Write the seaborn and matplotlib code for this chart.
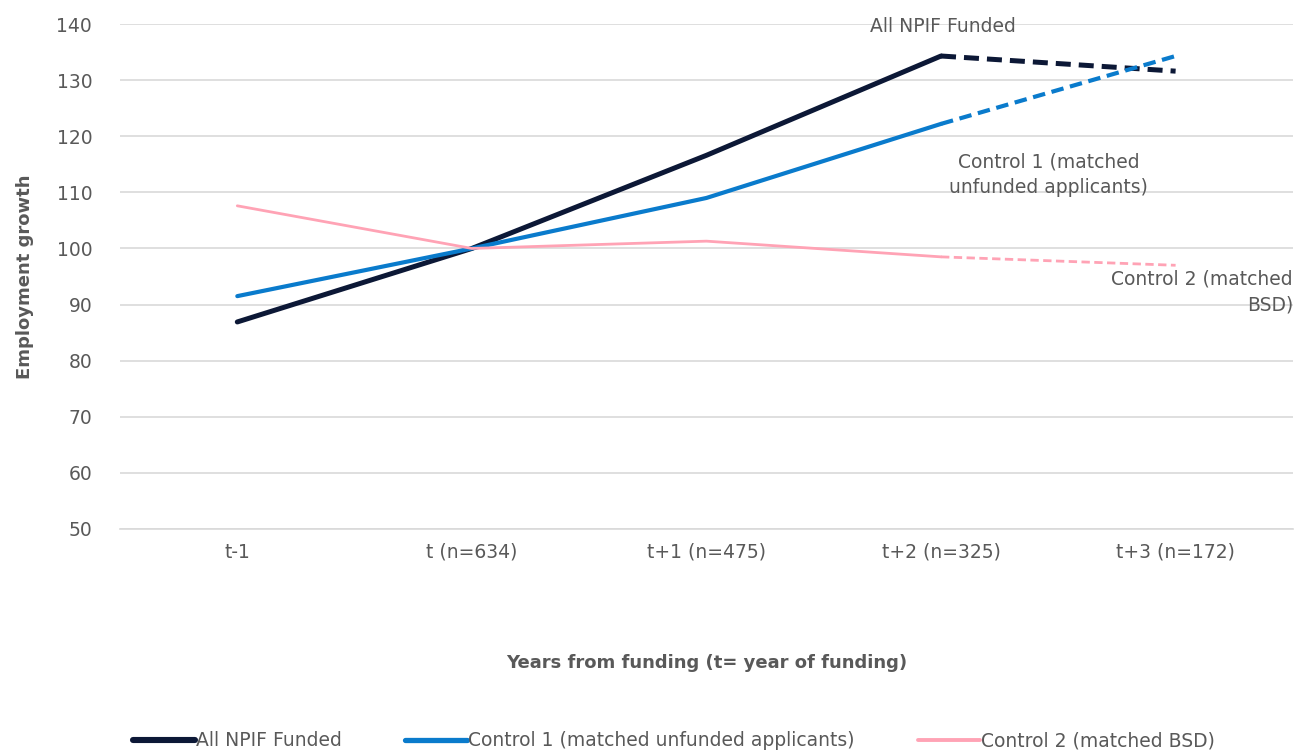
"""
Employment growth: NPIF funded firms vs matched control groups
"""

import pandas as pd
import numpy as np
import matplotlib.pyplot as plt
import seaborn as sns
from matplotlib.lines import Line2D

# data
periods = ['t-1', 't (n=634)', 't+1 (n=475)', 't+2 (n=325)', 't+3 (n=172)']
npif_funded = [86.9, 100, 116.6, 134.3, 131.6]
control_1 = [91.5, 100, 109.0, 122.2, 134.3]
control_2 = [107.6, 100, 101.3, 98.5, 97.0]
series_names = ['All NPIF Funded', 'Control 1 (matched unfunded applicants)',
                'Control 2 (matched BSD)']

colors = {'All NPIF Funded': '#0c1836',
          'Control 1 (matched unfunded applicants)': '#0a7bcc',
          'Control 2 (matched BSD)': '#ffa3b5'}
widths = {'All NPIF Funded': 3.6,
          'Control 1 (matched unfunded applicants)': 3.0,
          'Control 2 (matched BSD)': 2.0}

sns.set_style('white')
plt.rcParams['font.family'] = ['DejaVu Sans']
grey = '#595959'

rows = []
for name, vals in zip(series_names, [npif_funded, control_1, control_2]):
    for i, v in enumerate(vals):
        rows.append({'series': name, 'pos': i, 'value': v})
df = pd.DataFrame(rows)

fig = plt.figure(figsize=(12.96, 7.53), dpi=100)
ax = fig.add_axes([0.0926, 0.2975, 0.905, 0.6706])

for name in series_names:
    sub = df[df['series'] == name]
    # observed years solid, last year dashed
    sns.lineplot(data=sub[sub['pos'] <= 3], x='pos', y='value', color=colors[name],
                 linewidth=widths[name], ax=ax, solid_capstyle='round', legend=False)
    dashed = sns.lineplot(data=sub[sub['pos'] >= 3], x='pos', y='value', color=colors[name],
                          linewidth=widths[name], ax=ax, legend=False)
    dashed.lines[-1].set_dashes([3, 1.6])

ax.set_xlim(-0.5, 4.5)
ax.set_ylim(50, 140)
ax.set_yticks(np.arange(50, 141, 10))
ax.set_xticks(range(len(periods)))
ax.set_xticklabels(periods)
ax.yaxis.grid(True, color='#d9d9d9', linewidth=1.2)
ax.set_axisbelow(True)
for s in ['top', 'right', 'left']:
    ax.spines[s].set_visible(False)
ax.spines['bottom'].set_color('#d9d9d9')
ax.spines['bottom'].set_linewidth(1.2)
ax.tick_params(axis='both', length=0, labelsize=13.5, colors=grey, pad=10)
ax.tick_params(axis='y', pad=20)

ax.set_xlabel('Years from funding (t= year of funding)', fontsize=13, fontweight='bold',
              color=grey, labelpad=66)
ax.set_ylabel('Employment growth', fontsize=13, fontweight='bold', color=grey, labelpad=16)

# direct labels
ax.text(3.01, 139.5, 'All NPIF Funded', fontsize=13.5, color=grey, ha='center', va='center')
ax.text(3.46, 113.2, 'Control 1 (matched\nunfunded applicants)', fontsize=13.5, color=grey,
        ha='center', va='center', linespacing=1.45)
ax.text(4.5, 92.2, 'Control 2 (matched\nBSD)', fontsize=13.5, color=grey,
        ha='right', va='center', linespacing=1.45, multialignment='right')

handles = [Line2D([0], [0], color=colors[n], linewidth=widths[n] + 0.8) for n in series_names]
fig.legend(handles, series_names, loc='center', bbox_to_anchor=(0.52, 0.016), ncol=3,
           frameon=False, fontsize=13.5, labelcolor=grey, handlelength=3.3,
           handletextpad=0.05, columnspacing=3.4)

fig.savefig('out.png', dpi=100)
